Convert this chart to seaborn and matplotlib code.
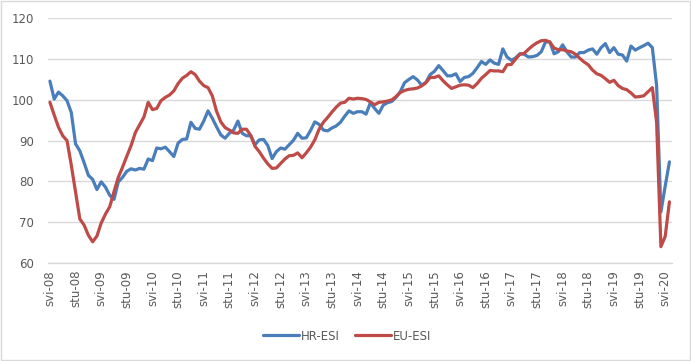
from __future__ import annotations

import matplotlib

matplotlib.use("Agg")

import matplotlib.pyplot as plt
import numpy as np
import pandas as pd
import seaborn as sns
from matplotlib.patches import Rectangle

# monthly values, svibanj 2008 .. lipanj 2020
hr_esi = [
    104.6, 100.2, 101.9, 101.0, 99.8, 96.9, 89.2, 87.5, 84.6, 81.5, 80.5, 78.0,
    79.9, 78.6, 76.6, 75.6, 79.9, 81.0, 82.5, 83.1, 82.8, 83.2, 83.0, 85.5,
    85.1, 88.2, 88.0, 88.4, 87.3, 86.1, 89.4, 90.3, 90.4, 94.5, 93.0, 92.8,
    94.8, 97.3, 95.5, 93.4, 91.4, 90.6, 91.8, 92.6, 94.8, 91.8, 91.2, 91.2,
    89.0, 90.2, 90.3, 88.8, 85.6, 87.3, 88.2, 87.9, 89.0, 90.1, 91.8, 90.6,
    90.7, 92.5, 94.6, 94.0, 92.6, 92.4, 93.1, 93.6, 94.5, 96.0, 97.3, 96.7,
    97.1, 97.1, 96.5, 99.3, 97.9, 96.7, 98.7, 99.3, 99.6, 100.6, 102.0, 104.2,
    105.0, 105.7, 104.9, 103.6, 104.3, 106.2, 107.0, 108.4, 107.2, 105.9, 105.9, 106.4,
    104.5, 105.5, 105.7, 106.5, 107.9, 109.4, 108.7, 109.8, 109.0, 108.7, 112.5, 110.5,
    109.7, 110.3, 111.3, 111.2, 110.5, 110.6, 110.9, 111.8, 114.2, 114.2, 111.3, 111.8,
    113.5, 111.8, 110.5, 110.5, 111.6, 111.6, 112.2, 112.5, 111.2, 112.8, 113.8, 111.6,
    112.8, 111.2, 111.0, 109.5, 113.2, 112.2, 112.8, 113.3, 113.9, 112.8, 103.5, 72.5,
    78.8, 84.8,
]
eu_esi = [
    99.4, 96.3, 93.3, 91.2, 90.0, 84.0, 77.4, 70.8, 69.3, 66.8, 65.2, 66.6,
    69.8, 72.0, 73.8, 77.5, 81.0, 83.5, 86.2, 88.8, 92.0, 93.9, 95.8, 99.4,
    97.6, 97.9, 99.8, 100.6, 101.2, 102.2, 104.0, 105.3, 106.0, 106.9, 106.2, 104.6,
    103.5, 103.0, 101.0, 97.2, 94.6, 93.2, 92.6, 91.9, 91.8, 92.8, 92.8, 91.3,
    88.6, 87.3, 85.7, 84.3, 83.2, 83.3, 84.4, 85.5, 86.3, 86.4, 87.0, 85.8,
    87.0, 88.4, 90.2, 92.8, 94.5, 95.7, 97.0, 98.2, 99.2, 99.4, 100.4, 100.2,
    100.4, 100.3, 100.1, 99.5, 98.8, 99.4, 99.5, 99.7, 100.0, 100.8, 101.8, 102.3,
    102.6, 102.7, 102.9, 103.4, 104.2, 105.5, 105.5, 105.9, 104.7, 103.7, 102.8, 103.2,
    103.6, 103.7, 103.6, 103.0, 104.0, 105.3, 106.2, 107.2, 107.1, 107.1, 106.9, 108.6,
    108.7, 110.0, 111.2, 111.4, 112.4, 113.3, 114.0, 114.5, 114.6, 114.2, 112.7, 112.3,
    112.3, 112.0, 111.8, 111.2, 110.2, 109.3, 108.6, 107.3, 106.4, 106.0, 105.2, 104.3,
    104.8, 103.5, 102.8, 102.5, 101.7, 100.7, 100.8, 101.0, 102.0, 103.0, 94.5, 64.0,
    66.5, 75.0,
]
tick_labels = [
    "svi-08", "stu-08", "svi-09", "stu-09", "svi-10", "stu-10", "svi-11", "stu-11",
    "svi-12", "stu-12", "svi-13", "stu-13", "svi-14", "stu-14", "svi-15", "stu-15",
    "svi-16", "stu-16", "svi-17", "stu-17", "svi-18", "stu-18", "svi-19", "stu-19",
    "svi-20",
]
series_names = ["HR-ESI", "EU-ESI"]
series_colors = ["#4A7EBB", "#BE4B48"]

TEXT_GREY = "#595959"
GRID_GREY = "#D9D9D9"


def build_frame() -> pd.DataFrame:
    n = len(hr_esi)
    return pd.DataFrame(
        {
            "mjesec": np.concatenate([np.arange(n), np.arange(n)]),
            "vrijednost": hr_esi + eu_esi,
            "serija": [series_names[0]] * n + [series_names[1]] * len(eu_esi),
        }
    )


def render(output_path: str = "out.png") -> None:
    sns.set_theme(style="white")
    plt.rcParams["font.family"] = ["DejaVu Sans"]

    fig = plt.figure(figsize=(6.91, 3.61), dpi=100)
    ax = fig.add_axes([48 / 691, 1 - 263 / 361, 624 / 691, (263 - 18.3) / 361])

    data = build_frame()
    sns.lineplot(
        data=data,
        x="mjesec",
        y="vrijednost",
        hue="serija",
        palette=dict(zip(series_names, series_colors)),
        linewidth=2.3,
        ax=ax,
        legend=False,
    )

    ax.set_ylim(60, 120)
    ax.set_yticks(range(60, 121, 10))
    ax.set_xlim(-0.45, len(hr_esi) - 1 + 0.6)
    ax.set_xticks(range(0, 6 * len(tick_labels), 6))
    ax.set_xticklabels(tick_labels, rotation=90)
    ax.set_xlabel("")
    ax.set_ylabel("")
    ax.tick_params(axis="both", length=0, labelsize=8.5, labelcolor=TEXT_GREY)
    ax.tick_params(axis="y", pad=10)
    ax.tick_params(axis="x", pad=5)

    ax.grid(axis="y", color=GRID_GREY, linewidth=1.0)
    ax.set_axisbelow(True)
    for side in ("top", "right", "left"):
        ax.spines[side].set_visible(False)
    ax.spines["bottom"].set_color(GRID_GREY)
    ax.spines["bottom"].set_linewidth(1.0)

    handles = [plt.Line2D([], [], color=c, linewidth=2.3) for c in series_colors]
    fig.legend(
        handles,
        series_names,
        loc="center",
        bbox_to_anchor=(0.503, 0.069),
        ncol=2,
        frameon=False,
        fontsize=8.5,
        labelcolor=TEXT_GREY,
        handlelength=3.0,
        handletextpad=0.2,
        columnspacing=1.3,
    )

    fig.patches.append(
        Rectangle((0.001, 0.002), 0.997, 0.995, transform=fig.transFigure,
                  fill=False, edgecolor=GRID_GREY, linewidth=1.0)
    )

    fig.savefig(output_path, dpi=100)
    plt.close(fig)


if __name__ == "__main__":
    render()
